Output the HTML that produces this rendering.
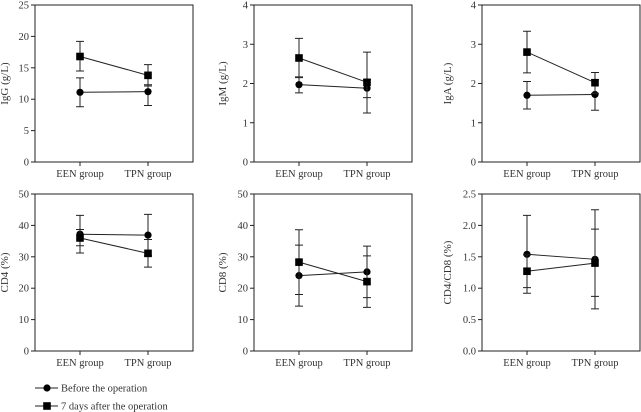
<!DOCTYPE html>
<html><head><meta charset="utf-8"><style>
body{margin:0;background:#fff}
svg{display:block;font-family:"Liberation Serif",serif}
</style></head><body>
<svg id="c" width="641" height="412"></svg>
<script>
const categories=["EEN group","TPN group"];
const panelTitles=["IgG (g/L)","IgM (g/L)","IgA (g/L)","CD4 (%)","CD8 (%)","CD4/CD8 (%)"];
const panelMax=[25,4,4,50,50,2.5];
const panelStep=[5,1,1,10,10,0.5];
const tickDecimals=[0,0,0,0,0,1];
const beforeMean=[[11.1,11.2],[1.97,1.88],[1.70,1.72],[37.2,36.9],[24.0,25.2],[1.54,1.46]];
const beforeLow=[[8.8,9.0],[1.76,1.64],[1.35,1.32],[31.2,30.3],[14.3,17.0],[0.92,0.67]];
const beforeHigh=[[13.4,12.3],[2.17,2.10],[2.05,2.10],[43.2,43.5],[33.7,33.4],[2.16,2.25]];
const afterMean=[[16.8,13.8],[2.65,2.03],[2.80,2.02],[36.0,31.1],[28.3,22.1],[1.27,1.40]];
const afterLow=[[14.5,12.1],[2.15,1.25],[2.27,1.75],[33.5,26.7],[18.0,13.9],[1.01,0.87]];
const afterHigh=[[19.2,15.5],[3.15,2.80],[3.33,2.28],[38.7,35.5],[38.6,30.3],[1.53,1.94]];
const seriesNames=["Before the operation","7 days after the operation"];

const NS="http://www.w3.org/2000/svg";
const svg=document.getElementById('c');
function mk(t,a,p){const e=document.createElementNS(NS,t);for(const k in a)e.setAttribute(k,a[k]);(p||svg).appendChild(e);return e;}
const lefts=[35,254,482],tops=[5,194],W=158,H=157;
const titleOffsets=[27,28,31,27,28,31];
for(let i=0;i<6;i++){
  const L=lefts[i%3],T=tops[Math.floor(i/3)],B=T+H;
  const g=mk('g',{});
  
  
  const y=v=>B-v/panelMax[i]*H;
  const x=k=>L+45+k*68;
  const frame=mk('rect',{x:L,y:T,width:W,height:H,fill:'none',stroke:'#222','stroke-width':1},g);
  
  
  const n=Math.round(panelMax[i]/panelStep[i]);
  for(let t=0;t<=n;t++){
    const v=t*panelStep[i],yy=y(v);
    mk('line',{x1:L-4,x2:L,y1:yy,y2:yy,stroke:'#222'},g);
    const tx=mk('text',{x:L-6,y:yy+3.5,'text-anchor':'end','font-size':10.5,fill:'#333'},g);
    tx.textContent=v.toFixed(tickDecimals[i]);
    
    
  }
  categories.forEach((c,k)=>{
    mk('line',{x1:x(k),x2:x(k),y1:B,y2:B+4,stroke:'#222'},g);
    const tx=mk('text',{x:x(k),y:B+15,'text-anchor':'middle','font-size':10.5,fill:'#333'},g);
    tx.textContent=c;
    
    
  });
  const ax=L-titleOffsets[i],ay=(T+B)/2;
  const yt=mk('text',{x:ax,y:ay,'text-anchor':'middle','font-size':11,fill:'#333',transform:`rotate(-90 ${ax} ${ay})`},g);
  yt.textContent=panelTitles[i];
  
  
  [[beforeMean,beforeLow,beforeHigh,'circle'],[afterMean,afterLow,afterHigh,'square']].forEach(([m,lo,hi,shape],s)=>{
    const pts=m[i].map((v,k)=>x(k)+','+y(v)).join(' ');
    const pl=mk('polyline',{points:pts,fill:'none',stroke:'#222','stroke-width':1},g);
    
    
    m[i].forEach((v,k)=>{
      const xx=x(k);
      const eb=mk('path',{d:`M${xx},${y(lo[i][k])}V${y(hi[i][k])}M${xx-4},${y(lo[i][k])}h8M${xx-4},${y(hi[i][k])}h8`,stroke:'#222',fill:'none'},g);
      
      
      let mkr;
      if(shape=='circle')mkr=mk('circle',{cx:xx,cy:y(v),r:3.6,fill:'#000'},g);
      else mkr=mk('rect',{x:xx-3.8,y:y(v)-3.8,width:7.6,height:7.6,fill:'#000'},g);
      
      
    });
  });
}
seriesNames.forEach((nm,s)=>{
  const yy=388+s*18;
  const g=mk('g',{});
  
  
  mk('line',{x1:35,x2:58,y1:yy,y2:yy,stroke:'#222'},g);
  if(s==0)mk('circle',{cx:47,cy:yy,r:3.6,fill:'#000'},g);
  else mk('rect',{x:43.2,y:yy-3.8,width:7.6,height:7.6,fill:'#000'},g);
  const t=mk('text',{x:61,y:yy+3.5,'font-size':10.5,fill:'#333'},g);
  t.textContent=nm;
});
</script>
</body></html>
